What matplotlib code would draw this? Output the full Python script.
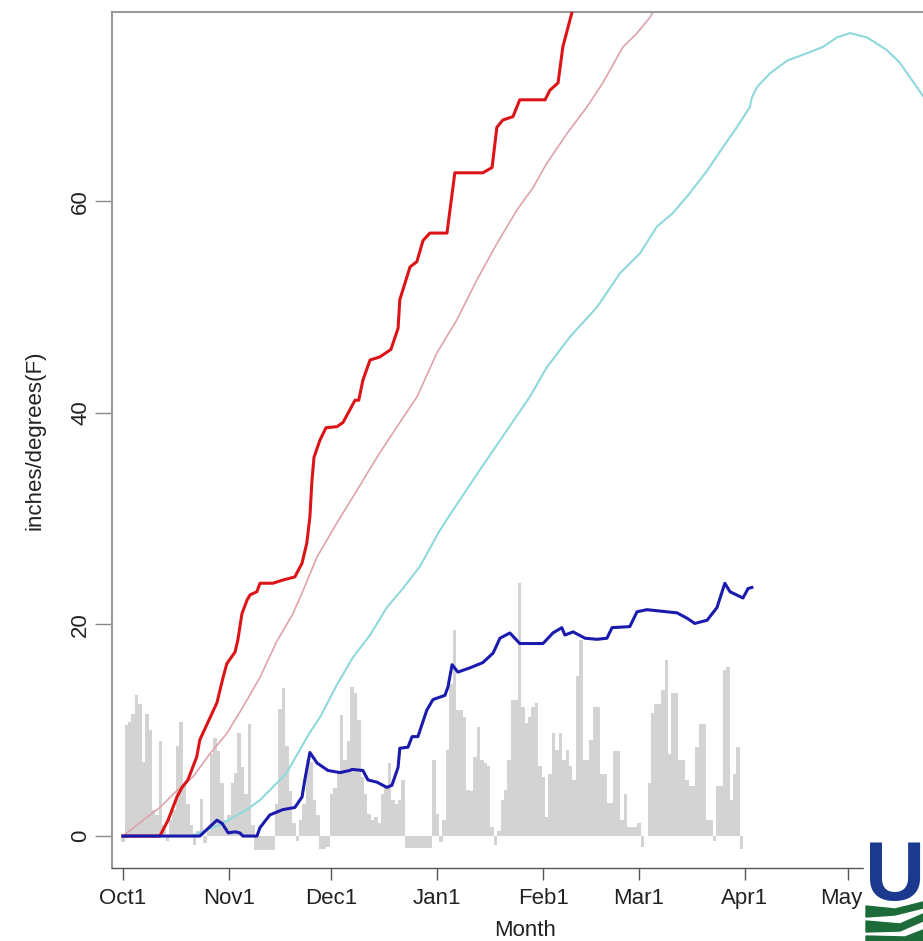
import numpy as np
import matplotlib
matplotlib.use("Agg")
import matplotlib.pyplot as plt
from matplotlib.patches import Rectangle, Polygon

plt.rcParams['font.family'] = ['Liberation Sans', 'DejaVu Sans']

# month ticks, days since Oct 1
month_days = [0, 31, 61, 92, 123, 151, 182, 212]
month_labels = ['Oct1', 'Nov1', 'Dec1', 'Jan1', 'Feb1', 'Mar1', 'Apr1', 'May1']

# daily bars (gray), Oct 1 onward
bar_vals = [
    -0.6, 10.5, 10.8, 11.5, 13.3, 12.5, 7.0, 11.5, 10.0, 2.5,
    2.0, 9.0, 1.0, -0.5, 1.5, 2.5, 8.5, 10.8, 5.0, 3.0,
    1.0, -0.8, 0.5, 3.5, -0.7, 0.5, 7.8, 9.3, 8.0, 5.0,
    1.5, 2.0, 5.0, 6.0, 9.7, 6.5, 4.0, 10.6, 1.0, -1.3,
    -1.3, -1.3, -1.3, -1.3, -1.3, 3.0, 12.0, 14.0, 8.5, 4.3,
    1.2, -0.5, 1.5, 3.0, 7.2, 7.0, 3.4, 2.0, -1.2, -1.2,
    -1.0, 4.0, 4.5, 6.0, 11.4, 7.2, 9.0, 14.1, 13.5, 11.0,
    5.6, 4.0, 2.1, 1.5, 1.8, 1.2, 4.0, 4.5, 6.9, 3.4,
    3.0, 3.4, 5.3, -1.1, -1.1, -1.1, -1.1, -1.1, -1.1, -1.1,
    -1.1, 7.2, 2.1, -0.6, 1.5, 8.1, 14.4, 19.5, 11.9, 11.9,
    11.3, 4.4, 4.3, 7.5, 10.3, 7.2, 6.9, 6.6, 0.9, -0.8,
    0.5, 3.4, 4.4, 7.2, 12.9, 12.9, 23.9, 12.2, 10.7, 11.3,
    12.2, 12.6, 6.6, 5.6, 1.8, 5.9, 9.7, 8.1, 9.7, 7.2,
    8.1, 6.6, 5.3, 15.1, 18.5, 7.2, 7.2, 9.1, 12.2, 12.2,
    5.9, 5.9, 3.1, 3.1, 8.0, 8.0, 1.5, 4.0, 0.9, 0.9,
    0.9, 1.2, -1.0, 0.0, 5.0, 11.6, 12.5, 12.5, 13.8, 16.6,
    7.8, 13.5, 13.5, 7.2, 7.2, 5.3, 4.7, 4.7, 8.4, 10.6,
    10.6, 1.5, 1.5, -0.5, 4.7, 4.7, 15.7, 16.0, 3.4, 5.9,
    8.4, -1.2,
]
bar_days = np.arange(len(bar_vals))

# red curve
red_days = [0, 9.9, 10.8, 13.2, 15.8, 17.3, 19.0, 21.6, 22.5, 25.5, 27.5,
            29.3, 30.4, 32.8, 33.6, 34.8, 36.3, 37.2, 39.2, 40.1, 43.9, 46.8,
            50.3, 52.4, 53.8, 54.7, 55.3, 55.9, 57.6, 59.4, 62.6, 64.4, 66.4,
            67.9, 69.0, 70.2, 72.3, 75.2, 78.4, 80.5, 81.0, 84.0, 86.0, 87.8,
            89.8, 94.8, 97.1, 105.3, 108.0, 109.4, 111.2, 114.1, 116.1, 123.5,
            124.9, 127.3, 128.7, 131.4, 133.0]
red_vals = [0, 0, 0, 1.5, 3.7, 4.6, 5.3, 7.5, 9.1, 11.2, 12.6,
            15.0, 16.3, 17.4, 18.5, 21.0, 22.3, 22.8, 23.1, 23.9, 23.9, 24.2,
            24.5, 25.8, 27.7, 30.2, 33.6, 35.8, 37.4, 38.6, 38.7, 39.1, 40.3,
            41.2, 41.2, 43.1, 45.0, 45.3, 46.0, 48.0, 50.7, 53.8, 54.3, 56.3,
            57.0, 57.0, 62.7, 62.7, 63.2, 67.0, 67.7, 68.0, 69.6, 69.6,
            70.5, 71.2, 74.6, 77.9, 80.0]

# pink curve
pink_days = [0, 5.9, 10.8, 15.8, 20.5, 25.5, 30.4, 35.1, 40.1, 45.0, 49.7,
             52.7, 56.8, 62.6, 68.5, 74.3, 80.2, 86.0, 91.9, 97.7, 103.6,
             109.4, 115.3, 120.0, 124.0, 129.9, 135.7, 140.4, 146.3, 150.4,
             154.2, 157.0]
pink_vals = [0, 1.5, 2.7, 4.3, 5.6, 7.8, 9.7, 12.2, 15.0, 18.4, 21.0,
             23.2, 26.4, 29.6, 32.7, 35.8, 38.7, 41.5, 45.7, 48.8, 52.6,
             56.0, 59.2, 61.3, 63.6, 66.4, 68.9, 71.2, 74.6, 75.9,
             77.4, 79.0]

# cyan curve
cyan_days = [20, 28, 36.3, 40.1, 45.0, 48.0, 49.7, 54.7, 57.6, 62.6, 67.3,
             72.3, 77.2, 81.9, 86.9, 92.7, 98.6, 104.4, 112.0, 119.0, 124.0,
             130.8, 138.7, 145.4, 151.3, 156.2, 160.9, 165.9, 170.9, 175.5,
             179.6, 183.4, 184.0, 185.5, 189.3, 194.3, 200.1, 204.8, 208.9,
             212.7, 217.7, 223.5, 227.3, 230.3, 234.0, 236.0]
cyan_vals = [0, 1.0, 2.5, 3.4, 5.0, 6.0, 7.0, 9.8, 11.2, 14.3, 16.9,
             19.0, 21.6, 23.4, 25.5, 28.9, 31.8, 34.6, 38.2, 41.5, 44.3,
             47.2, 50.0, 53.2, 55.1, 57.6, 58.9, 60.8, 62.9, 65.1,
             67.0, 68.9, 69.8, 70.8, 72.1, 73.3, 74.0, 74.6, 75.5,
             75.9, 75.5, 74.3, 73.1, 71.7, 70.0, 69.0]

# blue curve
blue_days = [0, 22.5, 25.5, 27.5, 29.0, 30.8, 32.8, 34.2, 35.1, 39.2, 40.1,
             43.0, 46.8, 50.3, 52.4, 53.2, 54.7, 56.8, 60.0, 63.5, 66.4, 67.0,
             70.2, 71.7, 74.3, 77.2, 78.7, 80.5, 81.0, 83.4, 84.6, 86.3, 88.9,
             90.7, 94.2, 95.1, 96.3, 98.0, 101.5, 105.3, 108.3, 110.3, 113.2,
             116.1, 119.0, 122.9, 125.8, 128.4, 129.3, 131.7, 135.2, 138.7,
             141.6, 143.1, 148.3, 150.4, 153.3, 162.1, 165.0, 167.3, 170.9,
             173.8, 176.1, 177.6, 181.4, 182.9, 184.0]
blue_vals = [0, 0, 0.9, 1.5, 1.2, 0.3, 0.4, 0.3, 0, 0, 0.8,
             2.0, 2.5, 2.7, 3.7, 5.3, 7.9, 6.9, 6.2, 6.0, 6.2, 6.3,
             6.2, 5.3, 5.1, 4.6, 4.8, 6.5, 8.3, 8.4, 9.4, 9.4, 11.9,
             12.9, 13.3, 14.1, 16.2, 15.5, 15.9, 16.4, 17.3, 18.7, 19.2,
             18.2, 18.2, 18.2, 19.2, 19.7, 19.0, 19.3, 18.7, 18.6,
             18.7, 19.7, 19.8, 21.2, 21.4, 21.1, 20.6, 20.1, 20.4,
             21.6, 23.9, 23.1, 22.5, 23.4, 23.5]

W, H = 923, 941


def fx(x):
    return x / W


def fy(y):
    return 1 - y / H


fig = plt.figure(figsize=(W / 100, H / 100), dpi=100)
ax = fig.add_axes([fx(112), fy(868), (960 - 112) / W, (868 - 12) / H])

ax.bar(bar_days, bar_vals, width=1.02, color='#d3d3d3', linewidth=0, zorder=1)
ax.plot(pink_days, pink_vals, color='#dfa3aa', lw=1.2, zorder=2)
ax.plot(cyan_days, cyan_vals, color='#8fd8dc', lw=1.5, zorder=2)
ax.plot(red_days, red_vals, color='#dc1418', lw=2.2, zorder=3,
        solid_joinstyle='round')
ax.plot(blue_days, blue_vals, color='#1a1aae', lw=2.2, zorder=4,
        solid_joinstyle='round')

ax.set_xlim(-3.2, 244.9)
ax.set_ylim(-3.02, 77.9)

ax.set_xticks(month_days, month_labels)
ax.set_yticks([0, 20, 40, 60])
ax.tick_params(axis='x', length=8.6, width=1, color='#555555', pad=6,
               labelsize=16, labelcolor='#222222')
ax.tick_params(axis='y', length=12, width=1, color='#888888', pad=3,
               labelsize=16, labelcolor='#222222')
for lab in ax.get_yticklabels():
    lab.set_rotation(90)
    lab.set_va('center')

for side in ['left', 'top']:
    ax.spines[side].set_color('#9a9a9a')
    ax.spines[side].set_linewidth(1.5)
ax.spines['bottom'].set_color('#555555')
ax.spines['bottom'].set_linewidth(1.0)

ax.set_xlabel('Month', fontsize=16, color='#222222')
ax.xaxis.set_label_coords((525 - 112) / 848, (868 - 920) / 856)
ax.set_ylabel('inches/degrees(F)', fontsize=16, color='#222222')
ax.yaxis.set_label_coords((45 - 112) / 848, 0.5)

# agency logo in the corner
fig.patches.append(Rectangle((fx(864), 0), 1 - fx(864), fy(834),
                             transform=fig.transFigure, color='white',
                             zorder=5))
fig.text(fx(865), fy(900), 'US', color='#1b3a8f', fontsize=60,
         fontweight='bold', family=['Liberation Sans Narrow', 'Liberation Sans'],
         ha='left', va='baseline', zorder=6)
swooshes = [
    [(866, 906), (895, 909), (923, 902), (923, 908), (895, 915), (866, 917)],
    [(866, 921), (900, 924), (923, 914), (923, 921), (900, 931), (866, 932)],
    [(866, 936), (905, 937), (923, 930), (923, 941), (866, 941)],
]
for pts in swooshes:
    fig.patches.append(Polygon([(fx(x), fy(y)) for x, y in pts], closed=True,
                               transform=fig.transFigure, color='#1e6b3a',
                               zorder=6))

fig.savefig('out.png', dpi=100)
